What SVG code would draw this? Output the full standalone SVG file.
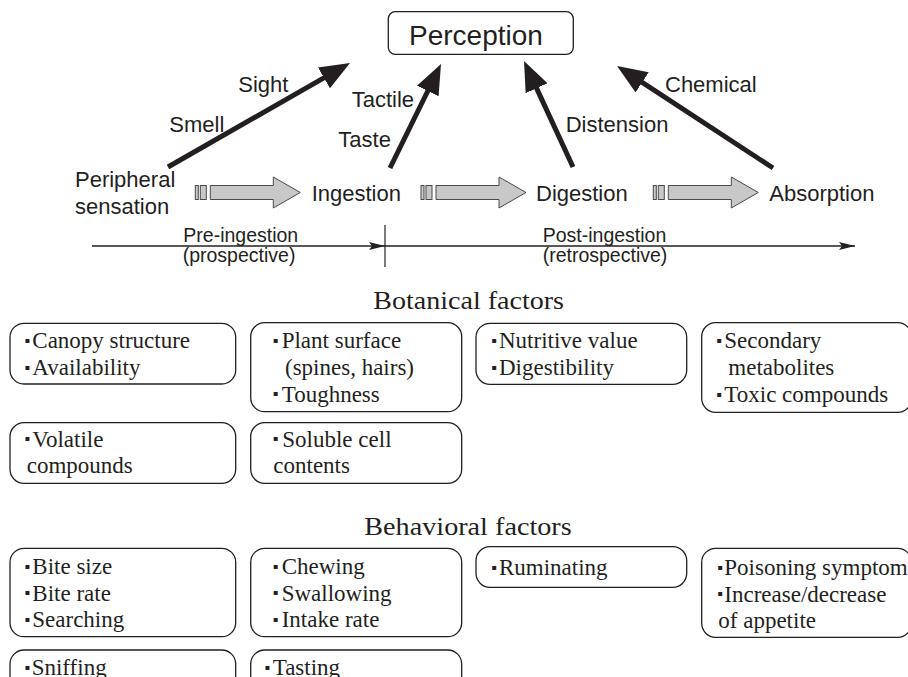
<svg xmlns="http://www.w3.org/2000/svg" xmlns:xlink="http://www.w3.org/1999/xlink" width="908" height="677" viewBox="0 0 908 677">
<style>
.s{font-family:"Liberation Sans",Arial,sans-serif;font-size:22px;fill:#231f20}
.sm{font-family:"Liberation Sans",Arial,sans-serif;font-size:19.5px;fill:#231f20}
.t{font-family:"Liberation Serif","Times New Roman",serif;font-size:23px;fill:#231f20}
.h{font-family:"Liberation Serif","Times New Roman",serif;font-size:26px;fill:#231f20}
.b{font-family:"DejaVu Sans",sans-serif;font-size:8px}
.box{fill:#fff;stroke:#231f20;stroke-width:1.3}
.thick{stroke:#231f20;stroke-width:5;fill:none;marker-end:url(#big)}
.thin{stroke:#231f20;stroke-width:1.3;fill:none;marker-end:url(#small)}
.blk{fill:#c8c8c8;stroke:#4a4a4a;stroke-width:1}
</style>
<defs>
<marker id="big" markerUnits="userSpaceOnUse" markerWidth="30" markerHeight="24" viewBox="0 0 30 24" refX="15" refY="12" orient="auto"><path d="M0,0 L30,12 L0,24 Z" fill="#231f20"/></marker>
<marker id="small" markerUnits="userSpaceOnUse" markerWidth="16" markerHeight="8" viewBox="0 0 16 8" refX="16" refY="4" orient="auto"><path d="M0,0 L16,4 L0,8 L3,4 Z" fill="#231f20"/></marker>
<g id="blkarrow" class="blk"><rect x="0" y="-7" width="3" height="14"/><rect x="5" y="-7" width="6" height="14"/><path d="M15,-7 H78 V-15.5 L105,0 L78,15.5 V7 H15 Z"/></g>
</defs>
<rect width="908" height="677" fill="#fff"/>

<g id="connectors">
<line class="thick" x1="168" y1="167" x2="337" y2="70.4"/>
<line class="thick" x1="390" y1="168" x2="434.4" y2="77.5"/>
<line class="thick" x1="573" y1="167" x2="530.3" y2="74.6"/>
<line class="thick" x1="773" y1="168" x2="629.6" y2="74.2"/>
<use xlink:href="#blkarrow" x="195.3" y="192.5"/>
<use xlink:href="#blkarrow" x="421" y="192.5"/>
<use xlink:href="#blkarrow" x="653.3" y="192.5"/>
<line class="thin" x1="92" y1="246" x2="385" y2="246"/>
<line class="thin" x1="385" y1="246" x2="855" y2="246"/>
<line x1="385" y1="225" x2="385" y2="267" stroke="#231f20" stroke-width="1.2"/>
<text class="s" x="238.3" y="91.7">Sight</text>
<text class="s" x="169.3" y="131.7">Smell</text>
<text class="s" x="351.7" y="106.7">Tactile</text>
<text class="s" x="338.3" y="146.7">Taste</text>
<text class="s" x="565.7" y="131.7">Distension</text>
<text class="s" x="665" y="91.7">Chemical</text>
<text class="sm" x="183.3" y="241.5">Pre-ingestion</text>
<text class="sm" x="182.7" y="262">(prospective)</text>
<text class="sm" x="542.7" y="241.5">Post-ingestion</text>
<text class="sm" x="542.7" y="262">(retrospective)</text>
</g>

<g id="perception"><rect class="box" x="388.3" y="11.7" width="185" height="42.6" rx="7"/><text class="s" style="font-size:28px" x="409" y="45">Perception</text></g>
<g id="peripheral"><text class="s" x="75" y="187">Peripheral</text><text class="s" x="75" y="214">sensation</text></g>
<g id="ingestion"><text class="s" x="311.7" y="201">Ingestion</text></g>
<g id="digestion"><text class="s" x="536" y="201">Digestion</text></g>
<g id="absorption"><text class="s" x="769.3" y="201">Absorption</text></g>

<g id="botanical-title"><text class="h" x="373.3" y="308.7" textLength="190.7" lengthAdjust="spacingAndGlyphs">Botanical factors</text></g>

<g id="bt1"><rect class="box" x="10" y="323.3" width="225.7" height="60.7" rx="14"/>
<text class="t"><tspan class="b" x="24.5" y="343">▪</tspan><tspan x="32.3" y="348.3">Canopy structure</tspan><tspan class="b" x="24.5" y="369.7">▪</tspan><tspan x="32.3" y="375">Availability</tspan></text></g>
<g id="bt2"><rect class="box" x="250.7" y="322.7" width="211" height="89" rx="14"/>
<text class="t"><tspan class="b" x="272.8" y="343">▪</tspan><tspan x="281.7" y="348.3">Plant surface</tspan><tspan x="285" y="375">(spines, hairs)</tspan><tspan class="b" x="272.8" y="396.4">▪</tspan><tspan x="281.7" y="401.7">Toughness</tspan></text></g>
<g id="bt3"><rect class="box" x="476" y="323.3" width="210.7" height="61" rx="14"/>
<text class="t"><tspan class="b" x="491.2" y="343">▪</tspan><tspan x="499" y="348.3">Nutritive value</tspan><tspan class="b" x="491.2" y="369.7">▪</tspan><tspan x="499" y="375">Digestibility</tspan></text></g>
<g id="bt4"><rect class="box" x="701.7" y="322.7" width="210" height="89.6" rx="14"/>
<text class="t"><tspan class="b" x="716.2" y="343">▪</tspan><tspan x="724.3" y="348.3">Secondary</tspan><tspan x="728.3" y="375">metabolites</tspan><tspan class="b" x="716.2" y="396.7">▪</tspan><tspan x="724.3" y="402">Toxic compounds</tspan></text></g>
<g id="bt5"><rect class="box" x="10" y="422.7" width="225.7" height="60.6" rx="14"/>
<text class="t"><tspan class="b" x="24.5" y="441.4">▪</tspan><tspan x="32.3" y="446.7">Volatile</tspan><tspan x="26.7" y="473.3">compounds</tspan></text></g>
<g id="bt6"><rect class="box" x="250.7" y="422.7" width="211" height="60.6" rx="14"/>
<text class="t"><tspan class="b" x="272.8" y="441.4">▪</tspan><tspan x="282.3" y="446.7">Soluble cell</tspan><tspan x="273.3" y="473.3">contents</tspan></text></g>

<g id="behavioral-title"><text class="h" x="364.3" y="535" textLength="207.4" lengthAdjust="spacingAndGlyphs">Behavioral factors</text></g>

<g id="bh1"><rect class="box" x="10" y="548.3" width="225.7" height="88.4" rx="14"/>
<text class="t"><tspan class="b" x="24.5" y="568.7">▪</tspan><tspan x="32.3" y="574">Bite size</tspan><tspan class="b" x="24.5" y="595.4">▪</tspan><tspan x="32.3" y="600.7">Bite rate</tspan><tspan class="b" x="24.5" y="622">▪</tspan><tspan x="32.3" y="627.3">Searching</tspan></text></g>
<g id="bh2"><rect class="box" x="250.7" y="548.3" width="211" height="88.4" rx="14"/>
<text class="t"><tspan class="b" x="272.8" y="568.7">▪</tspan><tspan x="281.7" y="574">Chewing</tspan><tspan class="b" x="272.8" y="595.4">▪</tspan><tspan x="281.7" y="600.7">Swallowing</tspan><tspan class="b" x="272.8" y="622">▪</tspan><tspan x="281.7" y="627.3">Intake rate</tspan></text></g>
<g id="bh3"><rect class="box" x="476" y="546.7" width="210.7" height="40.6" rx="14"/>
<text class="t"><tspan class="b" x="491.2" y="569.7">▪</tspan><tspan x="499" y="575">Ruminating</tspan></text></g>
<g id="bh4"><rect class="box" x="701.7" y="548.3" width="210" height="89" rx="14"/>
<text class="t"><tspan class="b" x="717.2" y="569.7">▪</tspan><tspan x="724.3" y="575">Poisoning symptom</tspan><tspan class="b" x="717.2" y="596.4">▪</tspan><tspan x="724.3" y="601.7">Increase/decrease</tspan><tspan x="718.3" y="627.7">of appetite</tspan></text></g>
<g id="bh5"><rect class="box" x="10" y="650" width="225.7" height="60" rx="14"/>
<text class="t"><tspan class="b" x="24.5" y="669.7">▪</tspan><tspan x="31.7" y="675">Sniffing</tspan></text></g>
<g id="bh6"><rect class="box" x="250.7" y="650" width="211" height="60" rx="14"/>
<text class="t"><tspan class="b" x="264.5" y="669.7">▪</tspan><tspan x="272.7" y="675">Tasting</tspan></text></g>
</svg>
